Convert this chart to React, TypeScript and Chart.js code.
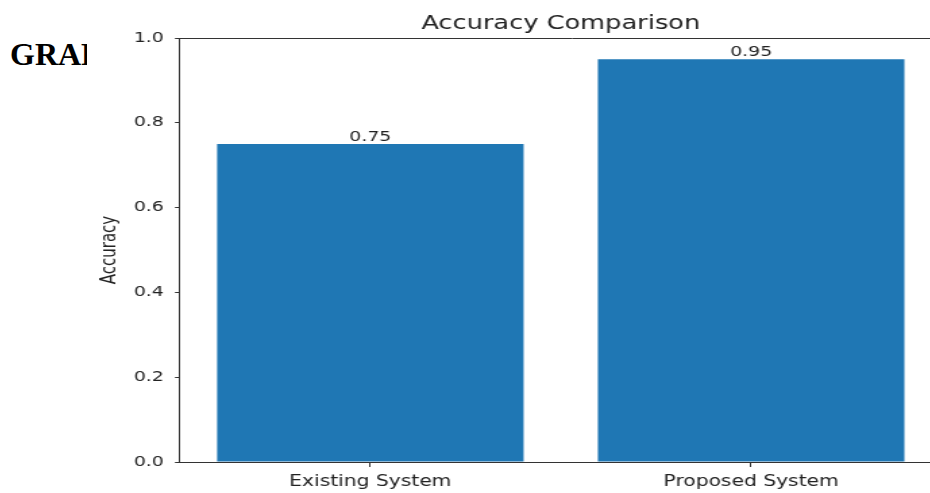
import React, { useEffect, useRef } from "react";
import { Chart, registerables } from "chart.js";

Chart.register(...registerables);

const categories = ["Existing System", "Proposed System"];
const accuracyValues = [0.75, 0.95];
const valueLabels = ["0.75", "0.95"];
const yTickValues = [0, 0.2, 0.4, 0.6, 0.8, 1.0];
const chartTitle = "Accuracy Comparison";
const yAxisTitle = "Accuracy";
const headingText = "GRAPH";

const SX = 1.35; // horizontal stretch of the pasted figure
const FONT = '"DejaVu Sans", sans-serif';

export default function App() {
  const canvasRef = useRef<HTMLCanvasElement | null>(null);

  useEffect(() => {
    const canvas = canvasRef.current;
    if (!canvas) return;

    const decorPlugin = {
      id: "decor",
      afterDraw(chart: any) {
        const { ctx, chartArea } = chart;
        const { left, right, top } = chartArea;
        ctx.save();
        // top spine
        ctx.strokeStyle = "#333";
        ctx.lineWidth = 1;
        ctx.beginPath();
        ctx.moveTo(left, top + 0.5);
        ctx.lineTo(chart.width, top + 0.5);
        ctx.stroke();
        // title
        ctx.fillStyle = "#222";
        ctx.font = `19px ${FONT}`;
        ctx.textAlign = "center";
        ctx.textBaseline = "alphabetic";
        ctx.fillText(chartTitle, (left + right) / 2, 29);
        // value labels
        const meta = chart.getDatasetMeta(0);
        ctx.font = `14px ${FONT}`;
        meta.data.forEach((bar: any, i: number) => {
          ctx.fillText(valueLabels[i], bar.x, bar.y - 3);
        });
        ctx.restore();
      },
    };

    const chart = new Chart(canvas, {
      type: "bar",
      data: {
        labels: categories,
        datasets: [
          {
            data: accuracyValues,
            backgroundColor: "#1f77b4",
            borderWidth: 0,
            barPercentage: 0.805,
            categoryPercentage: 1,
          },
        ],
      },
      options: {
        responsive: false,
        animation: false,
        devicePixelRatio: 1,
        layout: { padding: { top: 38, right: 17, left: 0, bottom: 0 } },
        plugins: {
          legend: { display: false },
          title: { display: false },
          tooltip: { enabled: false },
        },
        scales: {
          x: {
            type: "category",
            offset: true,
            grid: {
              drawOnChartArea: false,
              drawTicks: true,
              tickLength: 5,
              color: "#333",
              offset: false,
            },
            border: { color: "#333", width: 1 },
            ticks: {
              color: "#222",
              font: { family: "DejaVu Sans", size: 15 },
              padding: 6,
              maxRotation: 0,
            },
            afterFit(scale: any) {
              scale.height = 31;
            },
          },
          y: {
            min: 0,
            max: 1,
            afterBuildTicks(scale: any) {
              scale.ticks = yTickValues.map((v) => ({ value: v }));
            },
            grid: {
              drawOnChartArea: false,
              drawTicks: true,
              tickLength: 3.7,
              color: "#333",
            },
            border: { color: "#333", width: 1 },
            ticks: {
              color: "#222",
              font: { family: "DejaVu Sans", size: 14 },
              padding: 8.3,
              callback: (v: any) => Number(v).toFixed(1),
            },
            title: {
              display: true,
              text: yAxisTitle,
              color: "#222",
              font: { family: "DejaVu Sans", size: 15 },
              padding: { top: 8, bottom: 0 },
            },
            afterFit(scale: any) {
              scale.width = 68.9;
            },
          },
        },
      },
      plugins: [decorPlugin],
    });

    return () => chart.destroy();
  }, []);

  return (
    <div
      style={{
        position: "absolute",
        left: 0,
        top: 0,
        width: 930,
        height: 493,
        overflow: "hidden",
        background: "#fff",
      }}
    >
      <div
        style={{
          position: "absolute",
          left: 10,
          top: 38,
          fontFamily: '"Liberation Serif", "Times New Roman", serif',
          fontWeight: "bold",
          fontSize: 32,
          lineHeight: "32px",
          color: "#000",
          whiteSpace: "nowrap",
        }}
      >
        {headingText}
      </div>
      <canvas
        ref={canvasRef}
        width={650}
        height={493}
        style={{
          position: "absolute",
          left: 87,
          top: 0,
          background: "#fff",
          transform: `scaleX(${SX})`,
          transformOrigin: "0 0",
        }}
      />
    </div>
  );
}
